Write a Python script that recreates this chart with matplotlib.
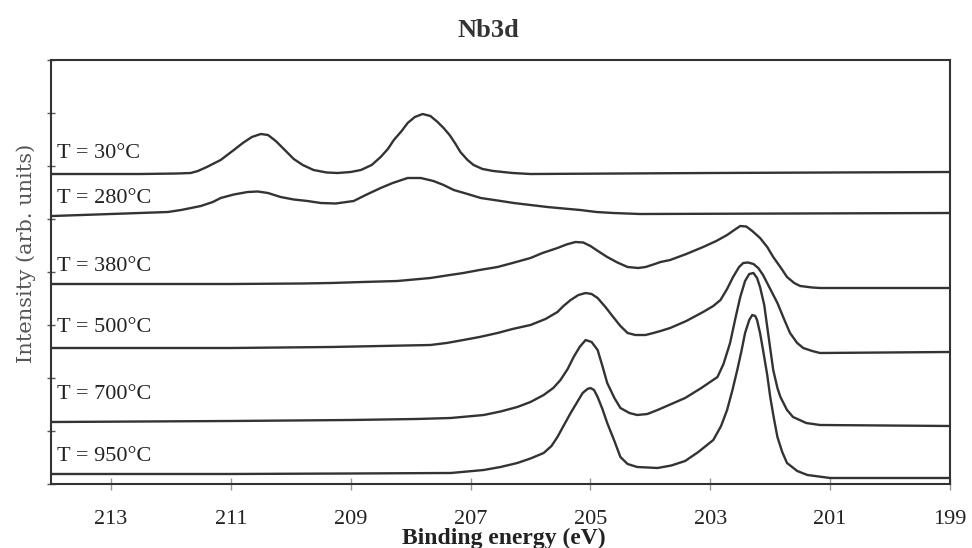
import numpy as np
import matplotlib
matplotlib.use('Agg')
import matplotlib.pyplot as plt

# binding energies (eV) and intensities (arb. units),
# one pair of lists per annealing temperature
be_30 = [213.98, 212.5, 211.9, 211.67, 211.55, 211.4, 211.17, 210.95, 210.8, 210.65,
         210.5, 210.38, 210.25, 210.1, 209.95, 209.8, 209.62, 209.4, 209.22, 209.0,
         208.83, 208.65, 208.5, 208.38, 208.28, 208.15, 208.05, 207.93, 207.8, 207.67,
         207.55, 207.45, 207.35, 207.25, 207.17, 207.05, 206.95, 206.8, 206.62, 206.3,
         206.0, 203.0, 199.0]
i_30 = [31.0, 31.0, 31.05, 31.1, 31.3, 31.7, 32.4, 33.4, 34.1, 34.7,
        35.0, 34.9, 34.3, 33.4, 32.5, 31.9, 31.4, 31.15, 31.1, 31.2,
        31.4, 31.9, 32.7, 33.5, 34.4, 35.3, 36.1, 36.7, 37.0, 36.8,
        36.2, 35.6, 34.9, 34.0, 33.2, 32.4, 31.9, 31.5, 31.3, 31.1,
        31.0, 31.1, 31.2]

be_280 = [213.98, 213.0, 212.05, 211.83, 211.5, 211.3, 211.17, 210.95, 210.72, 210.55,
          210.38, 210.17, 209.95, 209.72, 209.5, 209.25, 208.95, 208.75, 208.5, 208.3,
          208.05, 207.83, 207.62, 207.45, 207.28, 207.05, 206.83, 206.55, 206.28, 206.0,
          205.72, 205.45, 205.17, 204.9, 204.62, 204.17, 199.0]
i_280 = [26.8, 27.0, 27.2, 27.4, 27.8, 28.2, 28.6, 28.95, 29.2, 29.25,
         29.1, 28.7, 28.45, 28.3, 28.1, 28.05, 28.3, 28.9, 29.6, 30.1,
         30.6, 30.6, 30.3, 29.9, 29.4, 29.0, 28.6, 28.35, 28.1, 27.9,
         27.7, 27.55, 27.4, 27.2, 27.1, 27.0, 27.1]

be_380 = [213.98, 211.0, 209.8, 209.33, 208.8, 208.22, 207.67, 207.4, 207.12, 206.85,
          206.55, 206.3, 206.0, 205.8, 205.55, 205.4, 205.25, 205.12, 205.0, 204.85,
          204.72, 204.55, 204.38, 204.2, 204.08, 203.95, 203.83, 203.67, 203.4, 203.12,
          202.9, 202.72, 202.6, 202.5, 202.4, 202.3, 202.17, 202.05, 201.95, 201.82,
          201.72, 201.6, 201.5, 201.3, 201.17, 199.0]
i_380 = [20.0, 20.0, 20.05, 20.1, 20.2, 20.3, 20.6, 20.85, 21.1, 21.4,
         21.7, 22.1, 22.6, 23.1, 23.6, 23.95, 24.2, 24.15, 23.8, 23.2,
         22.7, 22.15, 21.7, 21.6, 21.7, 21.95, 22.2, 22.4, 23.0, 23.7,
         24.3, 24.9, 25.4, 25.8, 25.75, 25.3, 24.6, 23.7, 22.7, 21.6,
         20.7, 20.1, 19.8, 19.65, 19.6, 19.6]

be_500 = [213.98, 211.0, 209.33, 208.5, 207.67, 207.4, 207.12, 206.85, 206.55, 206.3,
          206.0, 205.75, 205.55, 205.45, 205.33, 205.2, 205.08, 204.98, 204.88, 204.75,
          204.62, 204.5, 204.38, 204.25, 204.08, 203.95, 203.83, 203.67, 203.4, 203.12,
          202.95, 202.83, 202.72, 202.62, 202.52, 202.45, 202.37, 202.28, 202.2, 202.12,
          202.0, 201.88, 201.77, 201.67, 201.55, 201.45, 201.3, 201.17, 199.0]
i_500 = [13.6, 13.6, 13.7, 13.8, 13.9, 14.1, 14.4, 14.7, 15.1, 15.5,
         15.9, 16.5, 17.2, 17.8, 18.4, 18.9, 19.1, 19.0, 18.6, 17.7,
         16.7, 15.8, 15.1, 14.9, 14.9, 15.1, 15.3, 15.6, 16.3, 17.2,
         17.8, 18.4, 19.5, 20.7, 21.7, 22.1, 22.15, 22.0, 21.6, 20.9,
         19.5, 18.1, 16.5, 15.1, 14.1, 13.6, 13.3, 13.1, 13.2]

be_700 = [213.98, 211.0, 209.0, 207.9, 207.33, 206.78, 206.5, 206.22, 206.0, 205.78,
          205.62, 205.5, 205.38, 205.28, 205.18, 205.08, 204.98, 204.88, 204.8, 204.72,
          204.6, 204.5, 204.35, 204.22, 204.05, 203.88, 203.65, 203.42, 203.15, 202.88,
          202.78, 202.67, 202.58, 202.5, 202.42, 202.35, 202.28, 202.22, 202.17, 202.1,
          202.05, 201.95, 201.88, 201.83, 201.72, 201.62, 201.4, 201.17, 199.0]
i_700 = [6.2, 6.3, 6.4, 6.5, 6.6, 6.9, 7.25, 7.7, 8.2, 8.9,
         9.6, 10.4, 11.5, 12.7, 13.7, 14.4, 14.2, 13.4, 11.8, 10.1,
         8.6, 7.6, 7.1, 6.9, 7.0, 7.4, 8.0, 8.6, 9.6, 10.7,
         12.0, 14.1, 16.6, 18.7, 20.3, 21.0, 21.1, 20.6, 19.7, 17.9,
         15.7, 11.4, 9.6, 8.7, 7.4, 6.7, 6.1, 5.9, 5.8]

be_950 = [213.98, 211.0, 209.0, 207.33, 206.78, 206.5, 206.22, 206.0, 205.78, 205.65,
          205.55, 205.45, 205.33, 205.22, 205.13, 205.05, 205.0, 204.94, 204.88, 204.8,
          204.72, 204.6, 204.5, 204.38, 204.22, 203.88, 203.65, 203.42, 203.2, 202.95,
          202.82, 202.72, 202.63, 202.55, 202.48, 202.42, 202.35, 202.3, 202.25, 202.22,
          202.17, 202.12, 202.05, 202.0, 201.94, 201.88, 201.8, 201.72, 201.55, 201.38,
          201.0, 199.0]
i_950 = [1.0, 1.0, 1.05, 1.1, 1.4, 1.7, 2.1, 2.55, 3.1, 3.8,
         4.7, 5.8, 7.1, 8.2, 9.1, 9.5, 9.6, 9.4, 8.7, 7.5,
         6.1, 4.3, 2.7, 2.0, 1.7, 1.6, 1.85, 2.3, 3.2, 4.4,
         5.8, 7.4, 9.4, 11.4, 13.3, 15.1, 16.4, 16.9, 16.8, 16.4,
         15.1, 13.4, 10.9, 8.7, 6.6, 4.7, 3.2, 2.1, 1.3, 0.9,
         0.6, 0.6]

labels = ['T = 30°C', 'T = 280°C', 'T = 380°C', 'T = 500°C', 'T = 700°C', 'T = 950°C']
label_y = [33.1, 28.6, 21.7, 15.6, 8.9, 2.7]
x_ticks = [213, 211, 209, 207, 205, 203, 201, 199]

serif = 'Liberation Serif'
line_col = '#333333'

fig = plt.figure(figsize=(9.72, 5.48), dpi=100)
ax = fig.add_axes([0.0525, 0.1168, 0.9249, 0.7737])

curves = [(be_30, i_30), (be_280, i_280), (be_380, i_380),
          (be_500, i_500), (be_700, i_700), (be_950, i_950)]
for be, inten in curves:
    ax.plot(be, inten, color=line_col, lw=1.7, solid_joinstyle='round')

# temperature labels on the left
for lab, y in zip(labels, label_y):
    ax.text(213.9, y, lab, family=serif, fontsize=16, color='#222222',
            ha='left', va='center')

ax.set_xlim(214.0, 199.0)
ax.set_ylim(0, 42.4)

ax.set_xticks(x_ticks)
ax.set_xticklabels([str(t) for t in x_ticks], family=serif, fontsize=16, color='#222222')
ax.tick_params(axis='x', direction='inout', length=8, width=1, color='#999999', pad=15)
ax.set_yticks(np.arange(0, 42.5, 5.3))
ax.set_yticklabels([])
ax.tick_params(axis='y', direction='inout', length=6, width=1, color='#555555')

for s in ax.spines.values():
    s.set_color('#333333')
    s.set_linewidth(1.5)

fig.text(0.502, 0.945, 'Nb3d', family=serif, fontweight='bold', fontsize=19,
         color='#333333', ha='center', va='center')
fig.text(0.518, 0.018, 'Binding energy (eV)', family=serif, fontweight='bold',
         fontsize=17, color='#222222', ha='center', va='center')
fig.text(0.027, 0.538, 'Intensity (arb. units)', family='DejaVu Serif', fontsize=15,
         color='#555555', rotation=90, ha='center', va='center')

fig.savefig('out.png', dpi=100)
